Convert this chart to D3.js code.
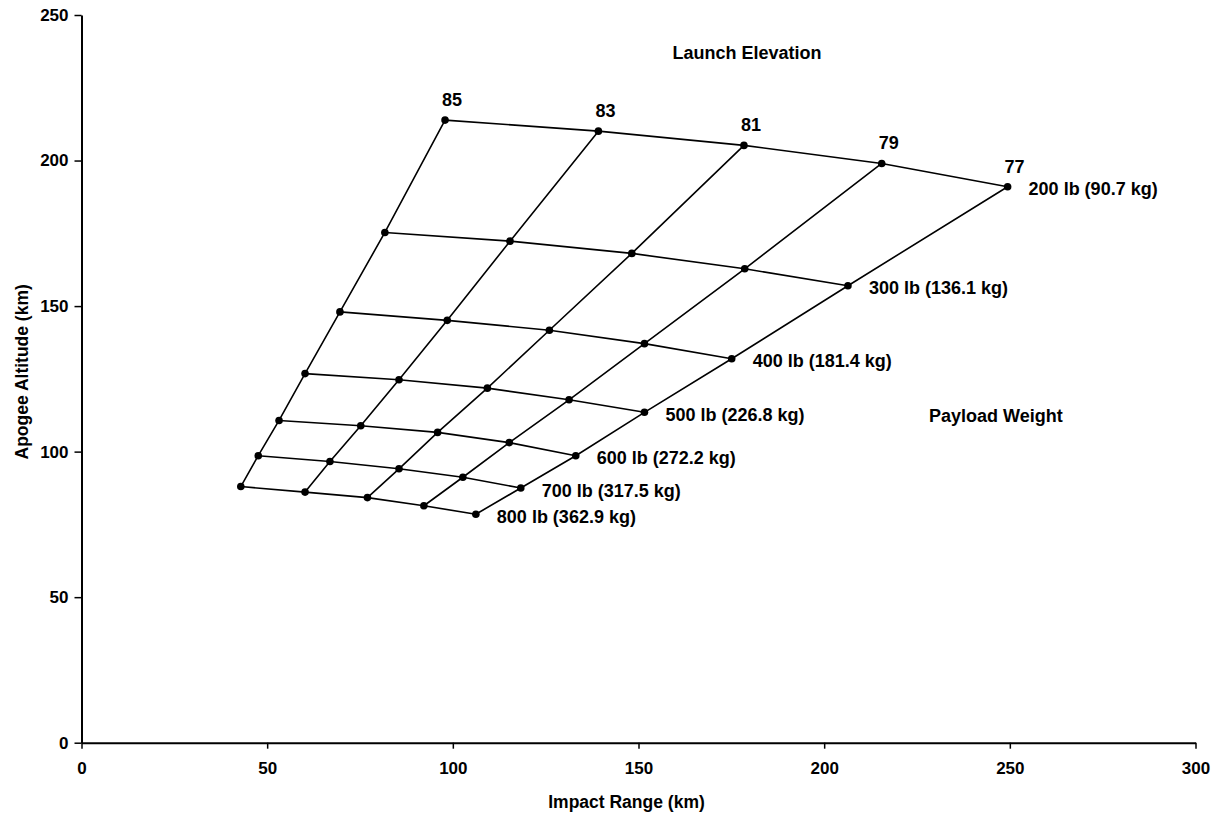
<!DOCTYPE html>
<html>
<head>
<meta charset="utf-8">
<script src="https://cdn.jsdelivr.net/npm/d3@7"></script>
<style>
  html, body { margin: 0; padding: 0; background: #fff; }
  svg { display: block; }
  text { font-family: "Liberation Sans", Arial, Helvetica, sans-serif; font-weight: bold; fill: #000; }
</style>
</head>
<body>
<svg id="chart" width="1220" height="819"></svg>
<script>
// ---- Data ----
const elevations = [85, 83, 81, 79, 77];
const weightLabels = [
  "200 lb (90.7 kg)",
  "300 lb (136.1 kg)",
  "400 lb (181.4 kg)",
  "500 lb (226.8 kg)",
  "600 lb (272.2 kg)",
  "700 lb (317.5 kg)",
  "800 lb (362.9 kg)"
];
// Impact range (km), one row per payload weight, columns follow elevations
const impactRange = [
  [97.9, 139.2, 178.4, 215.5, 249.4],
  [81.7, 115.4, 148.2, 178.6, 206.4],
  [69.6, 98.5, 126.0, 151.6, 175.1],
  [60.2, 85.5, 109.3, 131.3, 151.6],
  [53.2, 75.2, 95.9, 115.2, 133.1],
  [47.6, 66.9, 85.5, 102.7, 118.3],
  [42.9, 60.2, 77.0, 92.2, 106.2]
];
// Apogee altitude (km)
const apogeeAltitude = [
  [213.9, 210.1, 205.2, 199.0, 191.0],
  [175.3, 172.3, 168.1, 162.8, 157.0],
  [148.0, 145.1, 141.7, 137.1, 131.9],
  [126.8, 124.7, 121.8, 117.8, 113.5],
  [110.7, 108.9, 106.6, 103.1, 98.6],
  [98.6, 96.6, 94.1, 91.2, 87.5],
  [88.0, 86.1, 84.2, 81.4, 78.5]
];
const xTicks = [0, 50, 100, 150, 200, 250, 300];
const yTicks = [0, 50, 100, 150, 200, 250];
const xTitle = "Impact Range (km)";
const yTitle = "Apogee Altitude (km)";
const elevationTitle = "Launch Elevation";
const weightTitle = "Payload Weight";

// ---- Layout ----
const W = 1220, H = 819;
const margin = { left: 81.5, right: 24.5, top: 15, bottom: 76.3 };
const svg = d3.select("#chart");

const x = d3.scaleLinear().domain([0, 300]).range([margin.left, W - margin.right]);
const y = d3.scaleLinear().domain([0, 250]).range([H - margin.bottom, margin.top]);

// Axes
const xAxis = svg.append("g")
  .attr("transform", `translate(0,${y(0)})`)
  .call(d3.axisBottom(x).tickValues(xTicks).tickSizeInner(6).tickSizeOuter(0).tickPadding(13));
const yAxis = svg.append("g")
  .attr("transform", `translate(${x(0)},0)`)
  .call(d3.axisLeft(y).tickValues(yTicks).tickSizeInner(7).tickSizeOuter(0).tickPadding(6));

[xAxis, yAxis].forEach(a => {
  a.select(".domain").attr("stroke", "#000").attr("stroke-width", 2);
  a.selectAll(".tick line").attr("stroke", "#000").attr("stroke-width", 1.5);
  a.selectAll(".tick text")
    .attr("font-family", "Liberation Sans, Arial, sans-serif")
    .attr("font-weight", "bold")
    .attr("font-size", 17)
    .attr("fill", "#000");
});

// Axis titles
svg.append("text")
  .attr("x", (x(0) + x(300)) / 2 - 12)
  .attr("y", 808)
  .attr("text-anchor", "middle")
  .attr("font-size", 17.5)
  .text(xTitle);
svg.append("text")
  .attr("transform", `translate(28,${(y(0) + y(250)) / 2 - 7}) rotate(-90)`)
  .attr("text-anchor", "middle")
  .attr("font-size", 17.5)
  .text(yTitle);

// Grid lines
const line = d3.line().x(d => x(d[0])).y(d => y(d[1]));
const g = svg.append("g");

// Rows (constant payload weight)
impactRange.forEach((row, i) => {
  const pts = row.map((r, j) => [r, apogeeAltitude[i][j]]);
  g.append("path").attr("d", line(pts))
    .attr("fill", "none").attr("stroke", "#000").attr("stroke-width", 1.6);
});
// Columns (constant launch elevation)
elevations.forEach((e, j) => {
  const pts = impactRange.map((row, i) => [row[j], apogeeAltitude[i][j]]);
  g.append("path").attr("d", line(pts))
    .attr("fill", "none").attr("stroke", "#000").attr("stroke-width", 1.6);
});

// Dots
impactRange.forEach((row, i) => {
  row.forEach((r, j) => {
    g.append("circle")
      .attr("cx", x(r)).attr("cy", y(apogeeAltitude[i][j]))
      .attr("r", 3.8).attr("fill", "#000");
  });
});

// Elevation labels (above top row)
elevations.forEach((e, j) => {
  svg.append("text")
    .attr("x", x(impactRange[0][j]) + 7)
    .attr("y", y(apogeeAltitude[0][j]) - 14)
    .attr("text-anchor", "middle")
    .attr("font-size", 18)
    .text(e);
});

// Weight labels (right of last column)
weightLabels.forEach((lab, i) => {
  const last = impactRange[i].length - 1;
  svg.append("text")
    .attr("x", x(impactRange[i][last]) + 21)
    .attr("y", y(apogeeAltitude[i][last]) + 8.5)
    .attr("font-size", 18)
    .text(lab);
});

// Annotation titles
svg.append("text")
  .attr("x", 747).attr("y", 59)
  .attr("text-anchor", "middle")
  .attr("font-size", 18)
  .text(elevationTitle);
svg.append("text")
  .attr("x", 929).attr("y", 422)
  .attr("font-size", 18)
  .text(weightTitle);
</script>
</body>
</html>
